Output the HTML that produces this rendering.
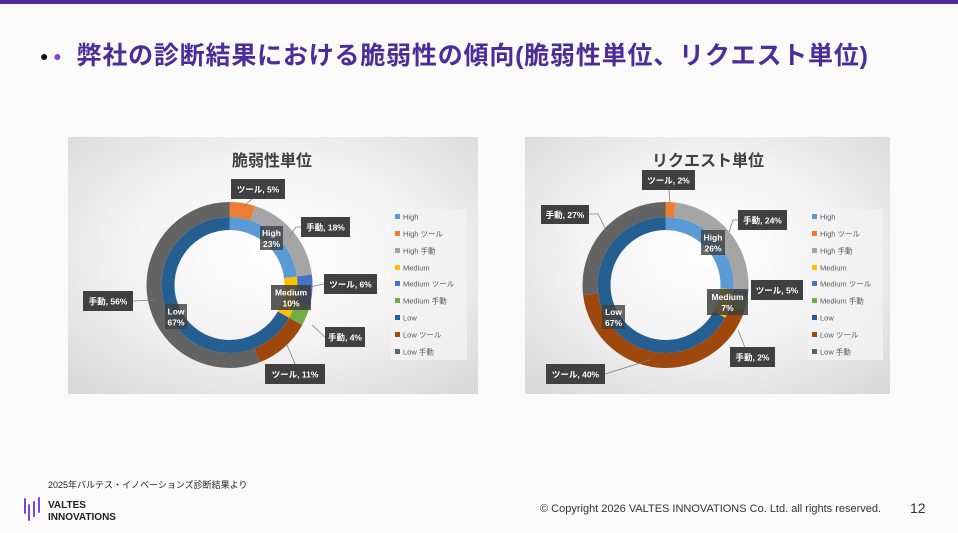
<!DOCTYPE html>
<html><head><meta charset="utf-8"><style>
*{margin:0;padding:0;box-sizing:border-box}
body{width:958px;height:533px;background:#fafafa;position:relative;overflow:hidden;font-family:"Liberation Sans","Noto Sans CJK JP",sans-serif}
.bar{position:absolute;left:0;top:0;width:958px;height:4px;background:#4e2d98}
.title{position:absolute;left:40px;top:36px;font-size:25px;font-weight:bold;color:#4b2d99;white-space:nowrap;letter-spacing:0.8px}
.title .d1{color:#111;font-size:14px;margin-right:4px;vertical-align:3px}
.title .d2{color:#7b46d6;font-size:14px;margin-right:14px;vertical-align:3px}
.src{position:absolute;left:48px;top:478px;font-size:9px;color:#222}
.logo{position:absolute;left:48px;top:500px;font-size:10px;font-weight:bold;color:#222;line-height:12px}
.copy{position:absolute;left:540px;top:503px;font-size:11px;color:#333}
.pg{position:absolute;left:910px;top:500px;font-size:14px;color:#333}
svg{position:absolute;left:0;top:0}
</style></head><body>
<div class="bar"></div>
<div class="title"><span class="d1">●</span><span class="d2">●</span>弊社の診断結果における脆弱性の傾向(脆弱性単位、リクエスト単位)</div>
<svg width="958" height="533" viewBox="0 0 958 533" font-family="Liberation Sans, Noto Sans CJK JP, sans-serif">
<defs>
<radialGradient id="bg" cx="0.5" cy="0.45" r="0.75"><stop offset="0" stop-color="#ffffff"/><stop offset="0.5" stop-color="#f2f2f2"/><stop offset="1" stop-color="#d6d6d6"/></radialGradient>
</defs>
<rect x="68" y="137" width="410" height="257" fill="url(#bg)"/>
<rect x="525" y="137" width="365" height="257" fill="url(#bg)"/>
<text x="272" y="166" font-size="16" font-weight="bold" fill="#404040" text-anchor="middle">脆弱性単位</text>
<text x="708" y="166" font-size="16" font-weight="bold" fill="#404040" text-anchor="middle">リクエスト単位</text>

<g transform="translate(229.5,285) rotate(-90)" fill="none">
 <circle r="61.5" stroke="#5b9bd5" stroke-width="13" stroke-dasharray="88.9 386.4" stroke-dashoffset="0"/>
 <circle r="61.5" stroke="#ffc000" stroke-width="13" stroke-dasharray="38.6 386.4" stroke-dashoffset="-88.9"/>
 <circle r="61.5" stroke="#255e91" stroke-width="13" stroke-dasharray="258.9 386.4" stroke-dashoffset="-127.5"/>
 <circle r="75.5" stroke="#ed7d31" stroke-width="15" stroke-dasharray="23.7 474.4" stroke-dashoffset="0"/>
 <circle r="75.5" stroke="#a5a5a5" stroke-width="15" stroke-dasharray="85.4 474.4" stroke-dashoffset="-23.7"/>
 <circle r="75.5" stroke="#4472c4" stroke-width="15" stroke-dasharray="28.5 474.4" stroke-dashoffset="-109.1"/>
 <circle r="75.5" stroke="#70ad47" stroke-width="15" stroke-dasharray="19 474.4" stroke-dashoffset="-137.6"/>
 <circle r="75.5" stroke="#9e480e" stroke-width="15" stroke-dasharray="52.2 474.4" stroke-dashoffset="-156.6"/>
 <circle r="75.5" stroke="#636363" stroke-width="15" stroke-dasharray="265.6 474.4" stroke-dashoffset="-208.8"/>
</g>
<g transform="translate(665.5,285) rotate(-90)" fill="none">
 <circle r="61.5" stroke="#5b9bd5" stroke-width="13" stroke-dasharray="100.5 386.4" stroke-dashoffset="0"/>
 <circle r="61.5" stroke="#ffc000" stroke-width="13" stroke-dasharray="27 386.4" stroke-dashoffset="-100.5"/>
 <circle r="61.5" stroke="#255e91" stroke-width="13" stroke-dasharray="258.9 386.4" stroke-dashoffset="-127.5"/>
 <circle r="75.5" stroke="#ed7d31" stroke-width="15" stroke-dasharray="9.5 474.4" stroke-dashoffset="0"/>
 <circle r="75.5" stroke="#a5a5a5" stroke-width="15" stroke-dasharray="113.9 474.4" stroke-dashoffset="-9.5"/>
 <circle r="75.5" stroke="#4472c4" stroke-width="15" stroke-dasharray="4.7 474.4" stroke-dashoffset="-123.4"/>
 <circle r="75.5" stroke="#70ad47" stroke-width="15" stroke-dasharray="14.2 474.4" stroke-dashoffset="-128.1"/>
 <circle r="75.5" stroke="#9e480e" stroke-width="15" stroke-dasharray="204 474.4" stroke-dashoffset="-142.3"/>
 <circle r="75.5" stroke="#636363" stroke-width="15" stroke-dasharray="128.1 474.4" stroke-dashoffset="-346.3"/>
</g>

<g stroke="#7f7f7f" stroke-width="0.8" fill="none">
 <polyline points="252,199 244,206"/>
 <polyline points="301,227 296,227 289,237"/>
 <polyline points="324,284 310,287"/>
 <polyline points="325,337 312,325"/>
 <polyline points="295,364 287,345"/>
 <polyline points="133,301 155,300"/>
 <polyline points="669,190 670,203"/>
 <polyline points="738,220 733,220 729,232"/>
 <polyline points="746,350 738,330"/>
 <polyline points="605,374 650,360"/>
 <polyline points="589,214 598,214 607,232"/>
</g>

<g font-size="8.5" font-weight="bold" fill="#fff" text-anchor="middle">
 <rect x="231" y="179" width="54" height="20" fill="#404040"/><text x="258" y="192.5">ツール, 5%</text>
 <rect x="301" y="217" width="49" height="20" fill="#404040"/><text x="325.5" y="230.5">手動, 18%</text>
 <rect x="260" y="226" width="23" height="24" fill="#404040" opacity="0.8"/><text x="271.5" y="236">High</text><text x="271.5" y="247">23%</text>
 <rect x="324" y="274" width="53" height="20" fill="#404040"/><text x="350.5" y="287.5">ツール, 6%</text>
 <rect x="271" y="285" width="40" height="25" fill="#404040" opacity="0.85"/><text x="291" y="295.5">Medium</text><text x="291" y="306.5">10%</text>
 <rect x="325" y="327" width="40" height="20" fill="#404040"/><text x="345" y="340.5">手動, 4%</text>
 <rect x="265" y="364" width="60" height="20" fill="#404040"/><text x="295" y="377.5">ツール, 11%</text>
 <rect x="83" y="291" width="50" height="20" fill="#404040"/><text x="108" y="304.5">手動, 56%</text>
 <rect x="165" y="304" width="22" height="25" fill="#404040" opacity="0.8"/><text x="176" y="314.5">Low</text><text x="176" y="325.5">67%</text>
 <rect x="642" y="170" width="53" height="20" fill="#404040"/><text x="668.5" y="183.5">ツール, 2%</text>
 <rect x="738" y="210" width="49" height="20" fill="#404040"/><text x="762.5" y="223.5">手動, 24%</text>
 <rect x="701" y="230" width="24" height="25" fill="#404040" opacity="0.8"/><text x="713" y="240.5">High</text><text x="713" y="251.5">26%</text>
 <rect x="751" y="280" width="52" height="20" fill="#404040"/><text x="777" y="293.5">ツール, 5%</text>
 <rect x="707" y="289" width="41" height="26" fill="#404040" opacity="0.85"/><text x="727.5" y="300">Medium</text><text x="727.5" y="311">7%</text>
 <rect x="730" y="347" width="45" height="20" fill="#404040"/><text x="752.5" y="360.5">手動, 2%</text>
 <rect x="546" y="364" width="59" height="20" fill="#404040"/><text x="575.5" y="377.5">ツール, 40%</text>
 <rect x="541" y="205" width="48" height="19" fill="#404040"/><text x="565" y="218">手動, 27%</text>
 <rect x="602" y="305" width="23" height="24" fill="#404040" opacity="0.8"/><text x="613.5" y="315">Low</text><text x="613.5" y="326">67%</text>
</g>

<g font-size="7.5" fill="#595959">
 <rect x="391" y="209" width="76" height="151" fill="#f2f2f2" opacity="0.8"/>
 <rect x="808" y="209" width="75" height="151" fill="#f2f2f2" opacity="0.8"/>
 <g>
 <rect x="395" y="214" width="5" height="5" fill="#5b9bd5"/><text x="403" y="219.5">High</text>
 <rect x="395" y="231" width="5" height="5" fill="#ed7d31"/><text x="403" y="236.5">High ツール</text>
 <rect x="395" y="248" width="5" height="5" fill="#a5a5a5"/><text x="403" y="253.5">High 手動</text>
 <rect x="395" y="265" width="5" height="5" fill="#ffc000"/><text x="403" y="270.5">Medium</text>
 <rect x="395" y="281" width="5" height="5" fill="#4472c4"/><text x="403" y="286.5">Medium ツール</text>
 <rect x="395" y="298" width="5" height="5" fill="#70ad47"/><text x="403" y="303.5">Medium 手動</text>
 <rect x="395" y="315" width="5" height="5" fill="#255e91"/><text x="403" y="320.5">Low</text>
 <rect x="395" y="332" width="5" height="5" fill="#9e480e"/><text x="403" y="337.5">Low ツール</text>
 <rect x="395" y="349" width="5" height="5" fill="#636363"/><text x="403" y="354.5">Low 手動</text>
 </g>
 <g transform="translate(417,0)">
 <rect x="395" y="214" width="5" height="5" fill="#5b9bd5"/><text x="403" y="219.5">High</text>
 <rect x="395" y="231" width="5" height="5" fill="#ed7d31"/><text x="403" y="236.5">High ツール</text>
 <rect x="395" y="248" width="5" height="5" fill="#a5a5a5"/><text x="403" y="253.5">High 手動</text>
 <rect x="395" y="265" width="5" height="5" fill="#ffc000"/><text x="403" y="270.5">Medium</text>
 <rect x="395" y="281" width="5" height="5" fill="#4472c4"/><text x="403" y="286.5">Medium ツール</text>
 <rect x="395" y="298" width="5" height="5" fill="#70ad47"/><text x="403" y="303.5">Medium 手動</text>
 <rect x="395" y="315" width="5" height="5" fill="#255e91"/><text x="403" y="320.5">Low</text>
 <rect x="395" y="332" width="5" height="5" fill="#9e480e"/><text x="403" y="337.5">Low ツール</text>
 <rect x="395" y="349" width="5" height="5" fill="#636363"/><text x="403" y="354.5">Low 手動</text>
 </g>
</g>
<g stroke="#7b46d6" stroke-width="2" stroke-linecap="round">
 <line x1="25" y1="499" x2="25" y2="513"/><line x1="29" y1="505" x2="29" y2="520"/><line x1="34" y1="502" x2="34" y2="516"/><line x1="39" y1="498" x2="39" y2="512"/>
</g>
</svg>
<div class="src">2025年バルテス・イノベーションズ診断結果より</div>
<div class="logo">VALTES<br>INNOVATIONS</div>
<div class="copy">© Copyright 2026 VALTES INNOVATIONS Co. Ltd. all rights reserved.</div>
<div class="pg">12</div>
</body></html>
